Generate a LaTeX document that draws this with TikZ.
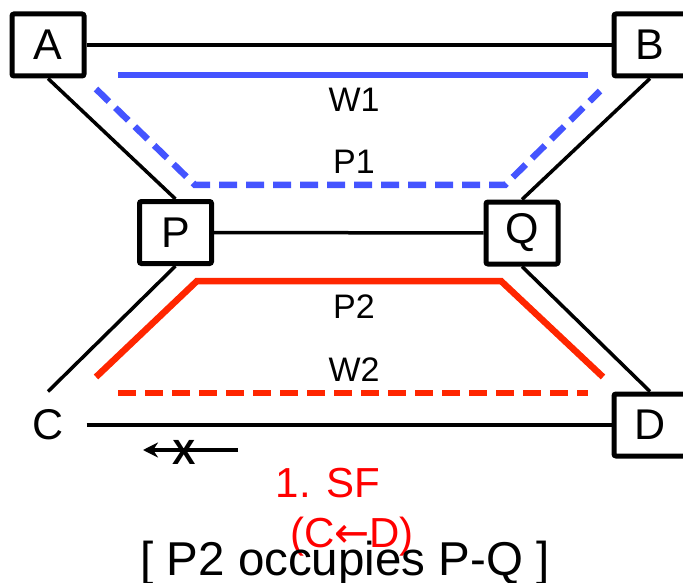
\documentclass[tikz,border=0pt]{standalone}
\usepackage{fontspec}
\setmainfont{Liberation Sans}
\newfontfamily\arrowfont{DejaVu Sans}
\usetikzlibrary{arrows.meta,positioning}
\definecolor{workblue}{RGB}{68,84,255}
\definecolor{protred}{RGB}{255,38,0}
\definecolor{sfred}{RGB}{255,0,0}

\begin{document}
\begin{tikzpicture}[x=1pt,y=-1pt,>=Stealth,
  switchbox/.style={draw,line width=5pt,rounded corners=2pt,minimum width=72pt,
    minimum height=62pt,inner sep=0pt,font=\fontsize{43}{45}\selectfont},
  endpoint/.style={switchbox,draw=none},
  link/.style={line width=3.5pt},
  working/.style={line width=6.5pt,draw=workblue},
  protect/.style={line width=6.5pt,draw=protred},
  standby/.style={dash pattern=on 18pt off 9pt},
  pathlabel/.style={font=\fontsize{34}{36}\selectfont,inner sep=0pt},
  arrow/.style={line width=4pt,
    arrows={-Stealth[length=15pt,width=15pt]}}]
\useasboundingbox (0,0) rectangle (683,583);
% network nodes
\node[switchbox] (A) at (48,45) {A};
\node[switchbox] (B) at (650,45) {B};
\node[switchbox] (P) at (175.5,232.5) {P};
\node[switchbox] (Q) at (522,233) {Q};
\node[endpoint] (C) at (48,425) {C};
\node[switchbox] (D) at (650,425) {D};
% fibre links
\draw[link] (A)--(B);
\draw[link] (A.south)--(P.north);
\draw[link] (B.south)--(Q.north);
\draw[link] (P)--(Q);
\draw[link] (P.south)--(C.north);
\draw[link] (Q.south)--(D.north);
\draw[link] (C)--(D);
% working and protection paths
\draw[working] (118,75)--(588,75);
\draw[working,standby] (96,89)--(195,185)--(505,185)--(600,91);
\draw[protect] (96,377)--(197,281)--(501,281)--(603,377);
\draw[protect,standby] (118,393)--(588,393);
\node[pathlabel] (w1) at (354,100) {W1};
\node[pathlabel] (p1) at (354,162) {P1};
\node[pathlabel] (p2) at (354,307) {P2};
\node[pathlabel] (w2) at (354,370) {W2};
% blocked switchover
\coordinate (sftail) at (238,450);
\coordinate (sfhead) at (143,450);
\draw[arrow] (sftail)--(sfhead);
\node[font=\fontsize{35}{37}\selectfont\bfseries,inner sep=0pt] (block) at (184,452) {X};
\node[text=sfred,font=\fontsize{42}{44}\selectfont,anchor=base,inner sep=0pt]
  (sf) at (328,497) {1. SF};
\node[text=sfred,font=\fontsize{42}{44}\selectfont,anchor=base,inner sep=0pt]
  (dir) at (352,547) {(C{\arrowfont ←}D)};
\node[font=\fontsize{47.5}{50}\selectfont,anchor=base,inner sep=0pt]
  (caption) at (345,575) {[ P2 occupies P-Q ]};
\end{tikzpicture}
\end{document}
